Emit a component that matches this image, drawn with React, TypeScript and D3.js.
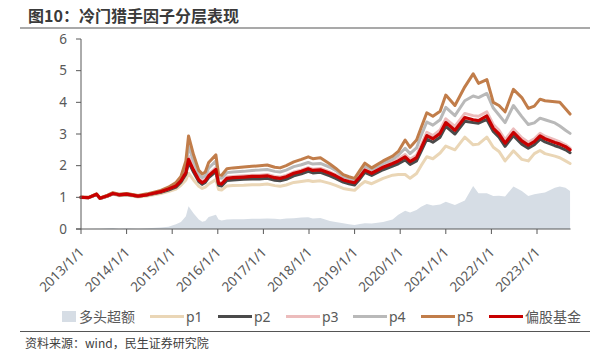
import React from "react";
import * as d3 from "d3";

// month offsets since 2013-01-01
const months = [0, 2, 4.1, 5, 7, 8.4, 10, 12, 15, 17.4, 21, 23, 25, 26.3, 27.6, 28.3, 29.6, 31, 31.9, 32.7, 33.6, 35.5, 36.2, 37, 38.4, 40, 42.8, 45, 47, 49, 51, 52.4, 54, 56, 58, 59.8, 61, 63, 65.5, 67, 69, 70.5, 72, 73.4, 74.7, 76.5, 79.5, 82, 83.5, 85.3, 86.6, 88.3, 89.5, 91, 92.6, 94.5, 96, 98.4, 101, 103.2, 104.6, 106.8, 108.5, 110, 111.6, 113.8, 116, 117.7, 119.3, 120.8, 122.1, 124.7, 126, 127.5, 128.7];

const fund = [1.00, 0.99, 1.10, 0.97, 1.05, 1.12, 1.08, 1.10, 1.04, 1.08, 1.18, 1.26, 1.36, 1.52, 1.78, 2.20, 1.86, 1.55, 1.46, 1.52, 1.68, 1.88, 1.44, 1.42, 1.60, 1.62, 1.64, 1.66, 1.66, 1.68, 1.62, 1.60, 1.65, 1.76, 1.82, 1.90, 1.85, 1.87, 1.76, 1.68, 1.55, 1.50, 1.46, 1.65, 1.86, 1.76, 1.95, 2.07, 2.15, 2.28, 2.13, 2.25, 2.55, 2.95, 2.85, 3.02, 3.36, 3.12, 3.52, 3.45, 3.42, 3.57, 3.18, 3.00, 2.71, 3.05, 2.78, 2.65, 2.76, 2.94, 2.85, 2.73, 2.68, 2.60, 2.50];
const p2 = [1.00, 0.99, 1.09, 0.96, 1.04, 1.11, 1.07, 1.09, 1.03, 1.07, 1.16, 1.23, 1.32, 1.48, 1.73, 2.12, 1.80, 1.50, 1.41, 1.47, 1.62, 1.81, 1.38, 1.36, 1.53, 1.55, 1.57, 1.58, 1.58, 1.60, 1.54, 1.52, 1.57, 1.68, 1.74, 1.82, 1.77, 1.79, 1.68, 1.60, 1.48, 1.43, 1.39, 1.58, 1.79, 1.69, 1.87, 1.99, 2.06, 2.18, 2.04, 2.15, 2.45, 2.84, 2.74, 2.90, 3.24, 3.00, 3.40, 3.36, 3.34, 3.46, 3.08, 2.90, 2.61, 2.95, 2.68, 2.55, 2.66, 2.84, 2.75, 2.63, 2.58, 2.50, 2.41];
const p3 = [1.00, 0.99, 1.10, 0.97, 1.05, 1.12, 1.08, 1.10, 1.04, 1.08, 1.18, 1.27, 1.38, 1.55, 1.83, 2.30, 1.93, 1.60, 1.50, 1.56, 1.73, 1.94, 1.48, 1.46, 1.64, 1.66, 1.68, 1.70, 1.70, 1.72, 1.66, 1.64, 1.69, 1.80, 1.86, 1.94, 1.89, 1.91, 1.80, 1.72, 1.59, 1.54, 1.50, 1.69, 1.90, 1.80, 2.00, 2.12, 2.21, 2.35, 2.20, 2.33, 2.64, 3.05, 2.95, 3.13, 3.48, 3.24, 3.65, 3.58, 3.56, 3.70, 3.30, 3.12, 2.82, 3.16, 2.88, 2.74, 2.85, 3.02, 2.93, 2.81, 2.75, 2.66, 2.55];
const p4 = [1.00, 0.99, 1.10, 0.97, 1.06, 1.13, 1.09, 1.11, 1.05, 1.09, 1.20, 1.29, 1.42, 1.60, 1.98, 2.62, 2.15, 1.72, 1.62, 1.68, 1.92, 2.15, 1.62, 1.60, 1.78, 1.80, 1.82, 1.85, 1.86, 1.88, 1.82, 1.80, 1.86, 1.97, 2.03, 2.10, 2.05, 2.07, 1.95, 1.85, 1.66, 1.60, 1.55, 1.78, 2.00, 1.87, 2.07, 2.20, 2.33, 2.55, 2.38, 2.56, 2.95, 3.38, 3.28, 3.45, 3.84, 3.58, 4.05, 4.20, 4.15, 4.28, 3.82, 3.60, 3.36, 3.90, 3.55, 3.30, 3.35, 3.50, 3.45, 3.35, 3.25, 3.12, 3.02];
const p5 = [1.00, 1.00, 1.11, 0.98, 1.07, 1.15, 1.10, 1.12, 1.06, 1.11, 1.22, 1.32, 1.47, 1.66, 2.15, 2.94, 2.35, 1.85, 1.74, 1.80, 2.10, 2.34, 1.72, 1.70, 1.90, 1.93, 1.96, 1.98, 2.00, 2.02, 1.95, 1.93, 2.00, 2.12, 2.20, 2.28, 2.22, 2.25, 2.05, 1.92, 1.72, 1.65, 1.60, 1.85, 2.08, 1.93, 2.15, 2.30, 2.45, 2.81, 2.58, 2.81, 3.20, 3.67, 3.56, 3.72, 4.23, 3.90, 4.49, 4.90, 4.60, 4.72, 4.00, 3.90, 3.70, 4.41, 4.15, 3.81, 3.88, 4.10, 4.05, 4.02, 4.00, 3.80, 3.63];
const p1 = [1.00, 0.99, 1.09, 0.96, 1.03, 1.10, 1.05, 1.07, 1.01, 1.04, 1.12, 1.18, 1.26, 1.38, 1.55, 1.76, 1.55, 1.35, 1.28, 1.32, 1.42, 1.56, 1.25, 1.23, 1.36, 1.37, 1.38, 1.40, 1.40, 1.42, 1.37, 1.35, 1.39, 1.47, 1.50, 1.53, 1.50, 1.52, 1.44, 1.38, 1.28, 1.25, 1.22, 1.38, 1.50, 1.43, 1.60, 1.70, 1.72, 1.72, 1.60, 1.75, 2.00, 2.28, 2.22, 2.40, 2.62, 2.50, 2.90, 2.66, 2.68, 2.90, 2.58, 2.45, 2.15, 2.47, 2.20, 2.15, 2.38, 2.48, 2.38, 2.30, 2.25, 2.15, 2.07];
const excess = [0.00, 0.00, 0.01, 0.01, 0.02, 0.03, 0.01, 0.02, 0.01, 0.02, 0.05, 0.07, 0.15, 0.22, 0.40, 0.72, 0.50, 0.30, 0.23, 0.25, 0.38, 0.45, 0.30, 0.27, 0.30, 0.31, 0.31, 0.32, 0.32, 0.33, 0.32, 0.31, 0.33, 0.34, 0.36, 0.37, 0.33, 0.35, 0.25, 0.22, 0.18, 0.15, 0.13, 0.16, 0.18, 0.17, 0.22, 0.30, 0.45, 0.58, 0.52, 0.60, 0.70, 0.79, 0.74, 0.77, 0.86, 0.76, 0.90, 1.36, 1.13, 1.13, 1.04, 1.05, 1.03, 1.34, 1.20, 1.04, 1.10, 1.13, 1.15, 1.30, 1.34, 1.30, 1.20];

const yearTicks = [0, 12, 24, 36, 48, 60, 72, 84, 96, 108, 120];
const yearLabels = ["2013/1/1", "2014/1/1", "2015/1/1", "2016/1/1", "2017/1/1", "2018/1/1", "2019/1/1", "2020/1/1", "2021/1/1", "2022/1/1", "2023/1/1"];
const yTicks = [0, 1, 2, 3, 4, 5, 6];

const legendNames = ["多头超额", "p1", "p2", "p3", "p4", "p5", "偏股基金"];
const legendColors = ["#d6dde5", "#ead6b6", "#4a4a4a", "#ecbcbc", "#b9b9b9", "#c17d4a", "#c80000"];

const FONT = "'Noto Sans', 'Noto Sans CJK SC', sans-serif";
const CJK = "'Noto Sans CJK SC', sans-serif";

export default function App() {
  const x = d3.scaleLinear().domain([0, 120]).range([81, 537]);
  const y = d3.scaleLinear().domain([0, 6]).range([229, 39]);
  const xEnd = x(months[months.length - 1]) + 0.5;

  const line = (vals: number[]) =>
    d3.line<number>().x((_, i) => x(months[i])).y((d) => y(d))(vals) || "";
  const area =
    d3.area<number>().x((_, i) => x(months[i])).y0(y(0)).y1((d) => y(d))(excess) || "";

  const series = [
    { v: p1, c: legendColors[1], w: 3 },
    { v: p2, c: legendColors[2], w: 3 },
    { v: p3, c: legendColors[3], w: 3 },
    { v: p4, c: legendColors[4], w: 3 },
    { v: p5, c: legendColors[5], w: 3 },
    { v: fund, c: legendColors[6], w: 3.2 },
  ];

  const legendX = [62, 150, 218, 286, 353, 421, 489];

  return (
    <svg width={609} height={362} style={{ position: "absolute", left: 0, top: 0, background: "#fff" }}>
      <text x={28} y={22} fontFamily={CJK} fontWeight="bold" fontSize={16} fill="#3a3a3a">
        图10：冷门猎手因子分层表现
      </text>
      <line x1={20} x2={590} y1={28} y2={28} stroke="#555" strokeWidth={1.2} />

      <path d={area} fill="#d6dde5" />
      {series.map((s, i) => (
        <path key={i} d={line(s.v)} fill="none" stroke={s.c} strokeWidth={s.w} strokeLinejoin="round" strokeLinecap="round" />
      ))}

      {/* y axis */}
      <line x1={81} x2={81} y1={y(6)} y2={y(0)} stroke="#595959" strokeWidth={1} />
      {yTicks.map((t) => (
        <g key={t}>
          <line x1={76} x2={81} y1={y(t)} y2={y(t)} stroke="#595959" />
          <text x={67} y={y(t)} dy="0.35em" textAnchor="end" fontFamily={FONT} fontSize={13.5} fill="#595959">
            {t}
          </text>
        </g>
      ))}
      {/* x axis */}
      <line x1={76} x2={xEnd} y1={y(0)} y2={y(0)} stroke="#595959" strokeWidth={1} />
      {yearTicks.map((t, i) => (
        <g key={t}>
          <line x1={x(t)} x2={x(t)} y1={y(0)} y2={y(0) + 5} stroke="#595959" />
          <text
            transform={`translate(${x(t) + 4},${y(0) + 24}) rotate(-45)`}
            textAnchor="end"
            fontFamily={FONT}
            fontSize={13.5}
            fill="#595959"
          >
            {yearLabels[i]}
          </text>
        </g>
      ))}

      {/* legend */}
      {legendNames.map((n, i) =>
        i === 0 ? (
          <g key={n}>
            <rect x={legendX[i]} y={311} width={14} height={11} fill={legendColors[i]} />
            <text x={legendX[i] + 17} y={317} dy="0.35em" fontFamily={CJK} fontSize={14} fill="#595959">
              {n}
            </text>
          </g>
        ) : (
          <g key={n}>
            <line x1={legendX[i]} x2={legendX[i] + 34} y1={316.5} y2={316.5} stroke={legendColors[i]} strokeWidth={3} />
            <text x={legendX[i] + 36} y={317} dy="0.35em" fontFamily={FONT} fontSize={14} fill="#595959">
              {n}
            </text>
          </g>
        )
      )}
      <line x1={20} x2={590} y1={331.5} y2={331.5} stroke="#555" strokeWidth={1.2} />
      <text x={25} y={344} dy="0.35em" fontFamily={CJK} fontSize={12} fill="#404040">
        资料来源：wind，民生证券研究院
      </text>
    </svg>
  );
}
